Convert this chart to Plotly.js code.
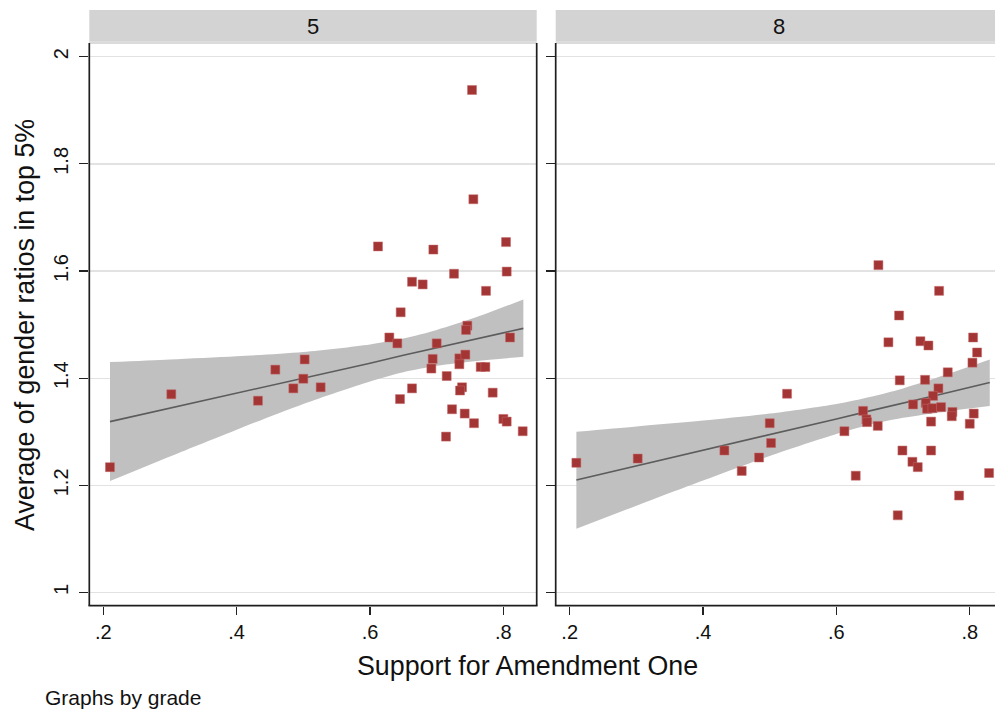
<!DOCTYPE html>
<html>
<head>
<meta charset="utf-8">
<script src="https://cdn.plot.ly/plotly-3.0.1.min.js"></script>
<style>
html, body { margin: 0; padding: 0; overflow: hidden; background: #fff; }
#chart { width: 1010px; height: 711px; }
</style>
</head>
<body>
<div id="chart"></div>
<script>
// ---- data ----
const panelLabels = ["5", "8"];
const xTickVals = [0.2, 0.4, 0.6, 0.8];
const xTickText = [".2", ".4", ".6", ".8"];
const yTickVals = [1, 1.2, 1.4, 1.6, 1.8, 2];
const yTickText = ["1", "1.2", "1.4", "1.6", "1.8", "2"];

// grade 5 scatter
const x5 = [0.753, 0.755, 0.612, 0.695, 0.804, 0.805, 0.726, 0.663, 0.679, 0.774,
  0.646, 0.629, 0.641, 0.700, 0.746, 0.744, 0.810, 0.694, 0.692, 0.734,
  0.743, 0.734, 0.715, 0.766, 0.773, 0.738, 0.735, 0.663, 0.645, 0.784,
  0.723, 0.742, 0.756, 0.714, 0.800, 0.805, 0.829, 0.302, 0.458, 0.502,
  0.500, 0.485, 0.526, 0.432, 0.210];
const y5 = [1.938, 1.734, 1.646, 1.640, 1.654, 1.599, 1.595, 1.580, 1.575, 1.563,
  1.523, 1.476, 1.465, 1.465, 1.498, 1.490, 1.476, 1.436, 1.418, 1.437,
  1.444, 1.426, 1.404, 1.421, 1.421, 1.383, 1.377, 1.381, 1.361, 1.373,
  1.342, 1.334, 1.316, 1.291, 1.324, 1.319, 1.301, 1.370, 1.416, 1.435,
  1.399, 1.381, 1.383, 1.358, 1.234];

// grade 8 scatter
const x8 = [0.663, 0.754, 0.694, 0.678, 0.726, 0.738, 0.805, 0.811, 0.804, 0.767,
  0.695, 0.733, 0.753, 0.745, 0.715, 0.734, 0.736, 0.744, 0.757, 0.774,
  0.773, 0.806, 0.742, 0.800, 0.640, 0.645, 0.646, 0.662, 0.612, 0.526,
  0.500, 0.502, 0.432, 0.484, 0.458, 0.302, 0.210, 0.699, 0.742, 0.714,
  0.722, 0.629, 0.829, 0.784, 0.692];
const y8 = [1.611, 1.563, 1.517, 1.467, 1.469, 1.461, 1.476, 1.448, 1.429, 1.411,
  1.396, 1.397, 1.381, 1.367, 1.351, 1.354, 1.343, 1.344, 1.346, 1.337,
  1.329, 1.334, 1.319, 1.315, 1.339, 1.323, 1.318, 1.311, 1.301, 1.371,
  1.316, 1.279, 1.265, 1.252, 1.227, 1.250, 1.242, 1.265, 1.265, 1.244,
  1.234, 1.218, 1.223, 1.181, 1.144];

// fitted line and 95% CI band
const fitX   = [0.21, 0.30, 0.40, 0.50, 0.60, 0.65, 0.70, 0.76, 0.83];
const fit5   = [1.319, 1.344, 1.372, 1.400, 1.428, 1.443, 1.457, 1.473, 1.493];
const ciLo5  = [1.208, 1.254, 1.304, 1.352, 1.394, 1.411, 1.423, 1.432, 1.440];
const ciHi5  = [1.430, 1.435, 1.441, 1.449, 1.463, 1.474, 1.490, 1.514, 1.547];
const fit8   = [1.210, 1.236, 1.265, 1.295, 1.324, 1.339, 1.353, 1.371, 1.392];
const ciLo8  = [1.119, 1.162, 1.209, 1.255, 1.296, 1.313, 1.326, 1.337, 1.348];
const ciHi8  = [1.300, 1.310, 1.321, 1.334, 1.352, 1.365, 1.381, 1.405, 1.435];

const W = 1010, H = 711;
const px = v => v / W, py = v => 1 - v / H;
const plotTop = 43, plotBot = 605.7;
const p1 = [89.3, 536.7], p2 = [555.7, 1003.1];

const markerColor = "#a33535";
const bandColor = "#c0c0c0";
const lineColor = "#5c5c5c";
const font = "Liberation Sans, Arial, Helvetica, sans-serif";

const traces = [];
[[x5, y5, fit5, ciLo5, ciHi5, "x", "y"], [x8, y8, fit8, ciLo8, ciHi8, "x2", "y2"]].forEach(([xs, ys, fit, lo, hi, xa, ya]) => {
  traces.push({
    x: fitX, y: lo, xaxis: xa, yaxis: ya, type: "scatter", mode: "lines",
    line: { width: 0, color: bandColor, shape: "spline", smoothing: 0.8 },
    hoverinfo: "skip", showlegend: false
  });
  traces.push({
    x: fitX, y: hi, xaxis: xa, yaxis: ya, type: "scatter", mode: "lines",
    fill: "tonexty", fillcolor: bandColor,
    line: { width: 0, color: bandColor, shape: "spline", smoothing: 0.8 },
    hoverinfo: "skip", showlegend: false
  });
  traces.push({
    x: fitX, y: fit, xaxis: xa, yaxis: ya, type: "scatter", mode: "lines",
    line: { color: lineColor, width: 1.6 }, showlegend: false
  });
  traces.push({
    x: xs, y: ys, xaxis: xa, yaxis: ya, type: "scatter", mode: "markers",
    marker: { symbol: "square", size: 9, color: markerColor, line: { width: 0.5, color: "#c46a6a" } },
    showlegend: false
  });
});

const xRange = [0.179, 0.850];
const yRange = [0.9754, 2.0256];
const yDom = [py(plotBot), py(plotTop)];

const xaxisBase = {
  range: xRange, tickvals: xTickVals, ticktext: xTickText,
  ticks: "outside", ticklen: 8, tickwidth: 1.2, tickcolor: "#222",
  showgrid: false, zeroline: false, showline: false,
  tickfont: { family: font, size: 20, color: "#111" }, fixedrange: true
};
const yaxisBase = {
  range: yRange, tickvals: yTickVals, ticktext: yTickText,
  ticks: "outside", ticklen: 9, tickwidth: 1.2, tickcolor: "#222",
  showgrid: true, gridcolor: "#e2e2e2", gridwidth: 1.3,
  zeroline: false, showline: false, domain: yDom,
  tickfont: { family: font, size: 20, color: "#111" }, fixedrange: true
};

const shapes = [];
[p1, p2].forEach(p => {
  shapes.push({ type: "rect", xref: "paper", yref: "paper",
    x0: px(p[0]), x1: px(p[1]), y0: py(41.7), y1: py(10),
    fillcolor: "#d3d3d3", line: { width: 0 }, layer: "below" });
  shapes.push({ type: "line", xref: "paper", yref: "paper",
    x0: px(p[0]), x1: px(p[1]), y0: py(plotTop), y1: py(plotTop),
    line: { color: "#b8b8b8", width: 1.2 } });
  shapes.push({ type: "line", xref: "paper", yref: "paper",
    x0: px(p[0]), x1: px(p[0]), y0: py(plotTop), y1: py(plotBot),
    line: { color: "#1e1e1e", width: 1.7 } });
  shapes.push({ type: "line", xref: "paper", yref: "paper",
    x0: px(p[1]), x1: px(p[1]), y0: py(plotTop), y1: py(plotBot),
    line: { color: "#1e1e1e", width: 1.7 } });
  shapes.push({ type: "line", xref: "paper", yref: "paper",
    x0: px(p[0]) - 0.0008, x1: px(p[1]) + 0.0008, y0: py(plotBot), y1: py(plotBot),
    line: { color: "#1e1e1e", width: 1.7 } });
});

const annotations = [
  { text: panelLabels[0], xref: "paper", yref: "paper", x: px((p1[0] + p1[1]) / 2), y: py(26),
    xanchor: "center", yanchor: "middle", showarrow: false, font: { family: font, size: 22, color: "#111" } },
  { text: panelLabels[1], xref: "paper", yref: "paper", x: px((p2[0] + p2[1]) / 2), y: py(26),
    xanchor: "center", yanchor: "middle", showarrow: false, font: { family: font, size: 22, color: "#111" } },
  { text: "Support for Amendment One", xref: "paper", yref: "paper", x: px(527), y: py(666),
    xanchor: "center", yanchor: "middle", showarrow: false, font: { family: font, size: 26.8, color: "#111" } },
  { text: "Average of gender ratios in top 5%", xref: "paper", yref: "paper", x: px(25), y: py(325),
    xanchor: "center", yanchor: "middle", textangle: -90, showarrow: false, font: { family: font, size: 26.8, color: "#111" } },
  { text: "Graphs by grade", xref: "paper", yref: "paper", x: px(43), y: py(697),
    xanchor: "left", yanchor: "middle", showarrow: false, font: { family: font, size: 21, color: "#111" } }
];

const layout = {
  width: W, height: H,
  margin: { l: 0, r: 0, t: 0, b: 0, pad: 0 },
  paper_bgcolor: "#ffffff", plot_bgcolor: "#ffffff",
  showlegend: false,
  xaxis: Object.assign({}, xaxisBase, { domain: [px(p1[0]), px(p1[1])], anchor: "y" }),
  xaxis2: Object.assign({}, xaxisBase, { domain: [px(p2[0]), px(p2[1])], anchor: "y2" }),
  yaxis: Object.assign({}, yaxisBase, { anchor: "x", tickangle: -90, ticklabelstandoff: 3 }),
  yaxis2: Object.assign({}, yaxisBase, { anchor: "x2", matches: "y", showticklabels: false }),
  shapes: shapes,
  annotations: annotations,
  font: { family: font }
};

Plotly.newPlot("chart", traces, layout, { displayModeBar: false, staticPlot: true });
</script>
</body>
</html>
